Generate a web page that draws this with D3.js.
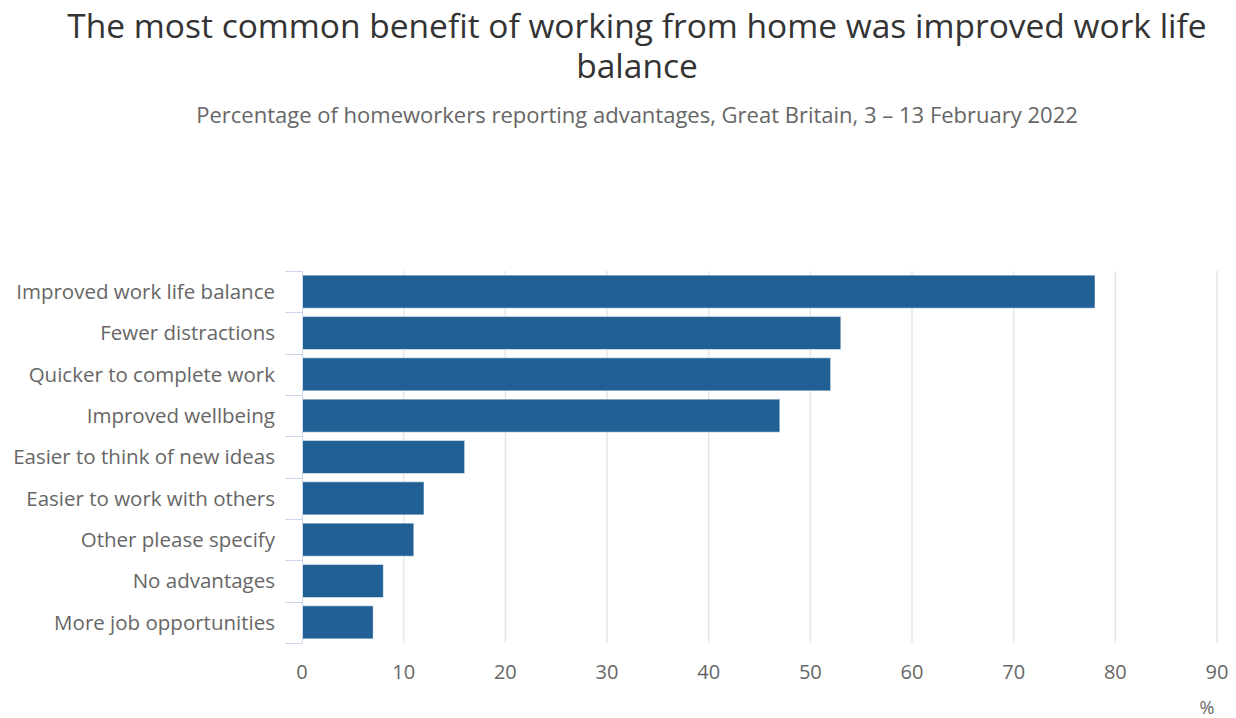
<!DOCTYPE html>
<html>
<head>
<meta charset="utf-8">
<script src="https://cdn.jsdelivr.net/npm/d3@7"></script>
<style>
  html, body { margin: 0; padding: 0; background: #ffffff; }
  svg { display: block; font-family: "Open Sans", sans-serif; }
</style>
</head>
<body>
<svg id="chart" width="1236" height="718"></svg>
<script>
// Benefits of working from home, share of homeworkers (%)
const categories = [
  "Improved work life balance",
  "Fewer distractions",
  "Quicker to complete work",
  "Improved wellbeing",
  "Easier to think of new ideas",
  "Easier to work with others",
  "Other please specify",
  "No advantages",
  "More job opportunities"
];
const values = [78, 53, 52, 47, 16, 12, 11, 8, 7];
const xTicks = [0, 10, 20, 30, 40, 50, 60, 70, 80, 90];

const titleLines = [
  "The most common benefit of working from home was improved work life",
  "balance"
];
const subtitle = "Percentage of homeworkers reporting advantages, Great Britain, 3 \u2013 13 February 2022";
const unitLabel = "%";

const svg = d3.select("#chart");
const margin = { left: 302, right: 19, top: 271, bottom: 75 };
const W = 1236, H = 718;

const x = d3.scaleLinear().domain([0, 90]).range([margin.left, W - margin.right]);
const y = d3.scaleBand().domain(categories)
  .range([margin.top, H - margin.bottom])
  .paddingInner(0.2).paddingOuter(0.1);

// Title (two lines in one text element) and subtitle
svg.append("text")
  .attr("text-anchor", "middle")
  .attr("fill", "#333333")
  .style("font-size", "33.5px")
  .selectAll("tspan").data(titleLines).join("tspan")
  .attr("x", 637).attr("y", (d, i) => 38 + i * 40)
  .text(d => d);

svg.append("text")
  .attr("x", 637).attr("y", 123)
  .attr("text-anchor", "middle")
  .attr("fill", "#666666")
  .style("font-size", "22px")
  .text(subtitle);

// Vertical grid lines
svg.append("g").selectAll("line").data(xTicks.slice(1)).join("line")
  .attr("x1", d => x(d)).attr("x2", d => x(d))
  .attr("y1", margin.top).attr("y2", H - margin.bottom)
  .attr("stroke", "#e6e6e6").attr("stroke-width", 1.5);

// Bars
svg.append("g").selectAll("rect").data(categories).join("rect")
  .attr("x", x(0))
  .attr("y", d => y(d))
  .attr("width", (d, i) => x(values[i]) - x(0))
  .attr("height", y.bandwidth())
  .attr("fill", "#206095")
  .attr("stroke", "rgba(255,255,255,0.55)")
  .attr("stroke-width", 1);

// Category axis: line plus ticks at band boundaries
const yAxis = svg.append("g");
yAxis.append("line")
  .attr("x1", x(0) + 0.5).attr("x2", x(0) + 0.5)
  .attr("y1", margin.top).attr("y2", H - margin.bottom)
  .attr("stroke", "#ccd6eb");
const bounds = d3.range(categories.length + 1).map(i => y.range()[0] + i * y.step());
yAxis.selectAll("line.tick").data(bounds).join("line")
  .attr("class", "tick")
  .attr("x1", x(0) - 17).attr("x2", x(0))
  .attr("y1", d => Math.round(d) + 0.5).attr("y2", d => Math.round(d) + 0.5)
  .attr("stroke", "#ccd6eb");
yAxis.selectAll("text").data(categories).join("text")
  .attr("x", x(0) - 27)
  .attr("y", d => y(d) + y.bandwidth() / 2)
  .attr("dy", "0.35em")
  .attr("text-anchor", "end")
  .attr("fill", "#666666")
  .style("font-size", "20.5px")
  .text(d => d);

// Value axis labels
svg.append("g").selectAll("text").data(xTicks).join("text")
  .attr("x", d => x(d))
  .attr("y", 679)
  .attr("text-anchor", "middle")
  .attr("fill", "#666666")
  .style("font-size", "20px")
  .text(d => d);

svg.append("text")
  .attr("x", 1207).attr("y", 714)
  .attr("text-anchor", "middle")
  .attr("fill", "#666666")
  .style("font-size", "18px")
  .text(unitLabel);
</script>
</body>
</html>
